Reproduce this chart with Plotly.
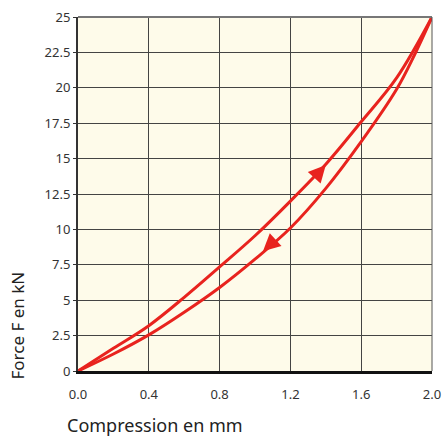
import plotly.graph_objects as go

# Data
loading_mm = [0.0, 0.2, 0.4, 0.6, 0.8, 1.0, 1.2, 1.4, 1.6, 1.8, 2.0]
force_loading = [0.0, 1.6, 3.2, 5.2, 7.35, 9.55, 12.0, 14.6, 17.6, 20.7, 25.0]
unloading_mm = [0.0, 0.2, 0.4, 0.6, 0.8, 1.0, 1.2, 1.4, 1.6, 1.8, 1.9, 2.0]
force_unloading = [0.0, 1.2, 2.55, 4.15, 5.9, 7.9, 10.1, 12.9, 16.2, 19.9, 22.3, 25.0]

x_ticks = [0.0, 0.4, 0.8, 1.2, 1.6, 2.0]
x_tick_labels = ["0.0", "0.4", "0.8", "1.2", "1.6", "2.0"]
y_ticks = [0, 2.5, 5, 7.5, 10, 12.5, 15, 17.5, 20, 22.5, 25]
y_tick_labels = ["0", "2.5", "5", "7.5", "10", "12.5", "15", "17.5", "20", "22.5", "25"]

# Arrow positions (tail -> tip) on each branch
arrow_up = dict(tail=(1.34, 13.72), tip=(1.40, 14.55))
arrow_down = dict(tail=(1.11, 9.2), tip=(1.045, 8.45))

RED = "#E8231E"
FONT = "Noto Sans"

fig = go.Figure()
fig.add_trace(go.Scatter(x=loading_mm, y=force_loading, mode="lines",
                         line=dict(color=RED, width=3, shape="spline"),
                         hoverinfo="skip", showlegend=False))
fig.add_trace(go.Scatter(x=unloading_mm, y=force_unloading, mode="lines",
                         line=dict(color=RED, width=3, shape="spline"),
                         hoverinfo="skip", showlegend=False))

for a in (arrow_up, arrow_down):
    fig.add_annotation(x=a["tip"][0], y=a["tip"][1], ax=a["tail"][0], ay=a["tail"][1],
                       xref="x", yref="y", axref="x", ayref="y", text="",
                       showarrow=True, arrowhead=2, arrowsize=1.15, arrowwidth=3,
                       arrowcolor=RED, standoff=0)

fig.add_annotation(text="Compression en mm", xref="paper", yref="paper",
                   x=-0.037, y=-0.1525, xanchor="left", yanchor="middle",
                   showarrow=False, font=dict(family=FONT, size=18, color="#222"))
fig.add_annotation(text="Force F en kN", xref="paper", yref="paper",
                   x=-0.17, y=0.128, xanchor="center", yanchor="middle",
                   textangle=-90, showarrow=False,
                   font=dict(family=FONT, size=17, color="#222"))

fig.update_xaxes(range=[0, 2.0], tickvals=x_ticks, ticktext=x_tick_labels,
                 showgrid=True, gridcolor="#444", gridwidth=1,
                 showline=True, linecolor="#111", linewidth=3, mirror=False,
                 ticks="outside", ticklen=9, tickcolor="rgba(0,0,0,0)",
                 zeroline=False, automargin=False,
                 tickfont=dict(family=FONT, size=13, color="#333"))
fig.update_yaxes(range=[0, 25], tickvals=y_ticks, ticktext=y_tick_labels,
                 showgrid=True, gridcolor="#444", gridwidth=1,
                 showline=True, linecolor="#333", linewidth=2,
                 ticks="outside", ticklen=3, tickcolor="#333", zeroline=False,
                 automargin=False,
                 tickfont=dict(family=FONT, size=13, color="#333"))

fig.add_shape(type="line", xref="paper", yref="paper", x0=0, x1=1, y0=1, y1=1,
              line=dict(color="#777", width=2))
fig.add_shape(type="line", xref="paper", yref="paper", x0=1, x1=1, y0=0, y1=1,
              line=dict(color="#555", width=1))

fig.update_layout(width=442, height=438,
                  margin=dict(l=78, r=10, t=17, b=67, autoexpand=False),
                  plot_bgcolor="#FEFBEA", paper_bgcolor="white",
                  font=dict(family=FONT))

fig.write_html("out.html", config={"displayModeBar": False},
               post_script="document.body.style.margin='0';document.body.style.overflow='hidden';")
